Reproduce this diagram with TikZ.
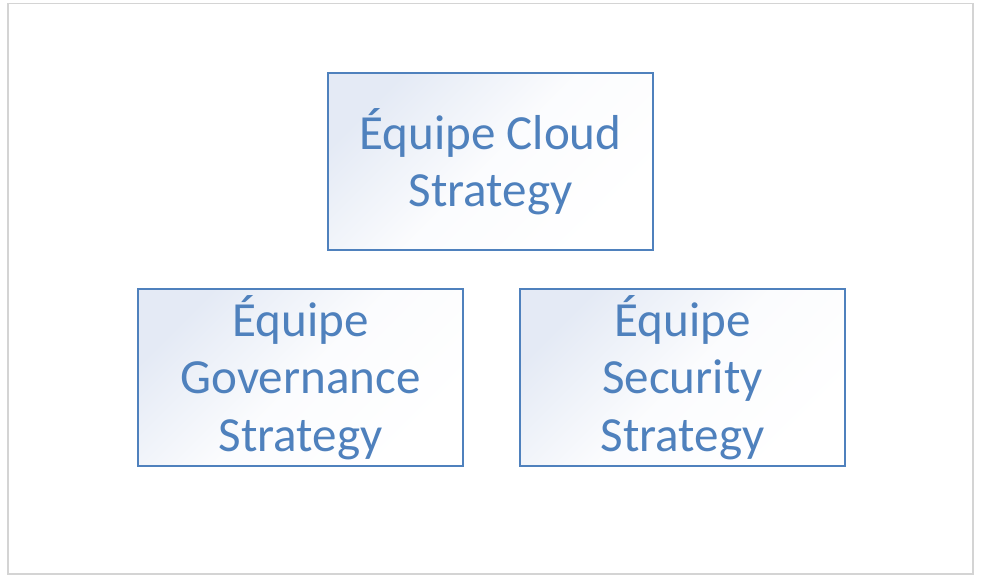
\documentclass[tikz,border=0pt]{standalone}
\usepackage{fontspec}
\setmainfont{Carlito}
\usepackage{xcolor}
\usetikzlibrary{positioning}
\definecolor{teamblue}{HTML}{4F81BD}
\definecolor{teamfill}{HTML}{E4EAF5}
\definecolor{framegray}{HTML}{D4D4D4}

\begin{document}
\begin{tikzpicture}[x=0.75pt,y=-0.75pt,node distance=39pt]
		\tikzset{team/.style={draw=teamblue,line width=1.1pt,minimum width=243.75pt,minimum height=132.75pt,
				shading=axis,top color=teamfill,bottom color=white,middle color=teamfill!15!white,shading angle=45,
				text=teamblue,align=center,inner sep=0pt,font=\fontsize{36.8}{43}\selectfont}}
		
		\useasboundingbox (0,0) rectangle (983,587);
		\draw[framegray,line width=1pt] (8,3.5) rectangle (973,574);
		
		\node[team] (cloud) at (490.5,161.5) {Équipe Cloud\\Strategy};
		\node[team] (gov)   at (300.5,377.5) {Équipe\\Governance\\Strategy};
		\node[team] (sec)   at (682.5,377.5) {Équipe\\Security\\Strategy};
		
\end{tikzpicture}
\end{document}
